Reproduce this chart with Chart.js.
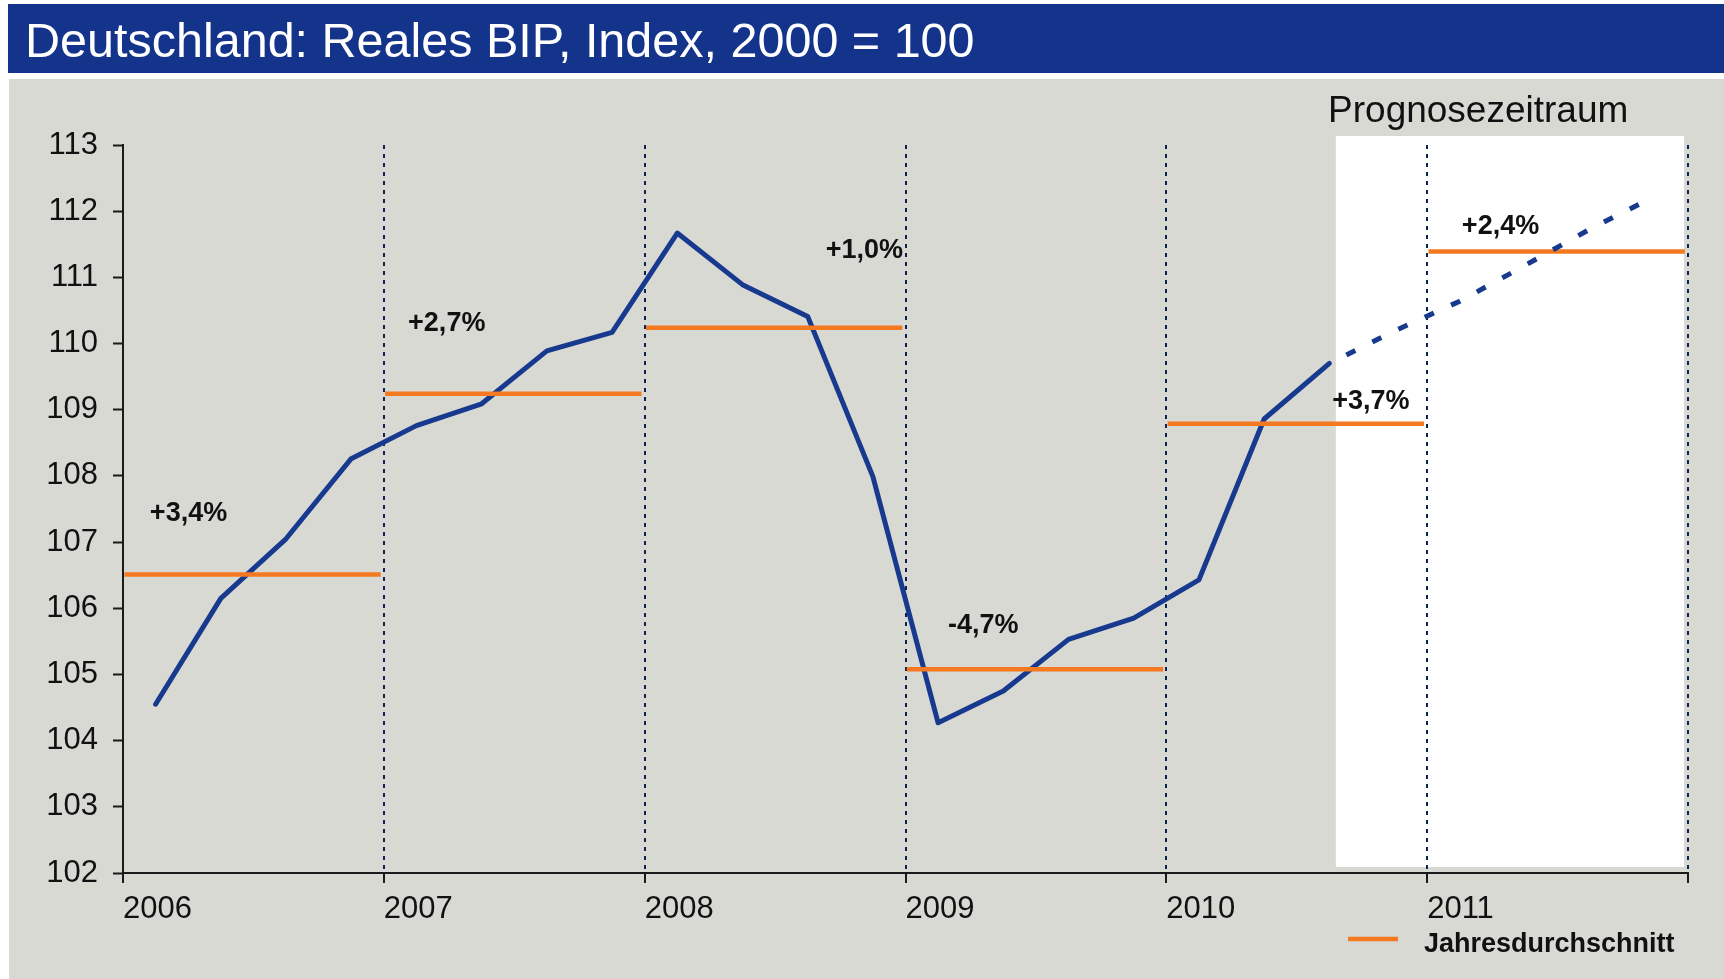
<!DOCTYPE html>
<html lang="de">
<head>
<meta charset="UTF-8">
<title>Deutschland: Reales BIP, Index, 2000 = 100</title>
<script src="https://cdn.jsdelivr.net/npm/chart.js"></script>
<style>
    body {
        margin: 0;
        width: 1724px;
        height: 979px;
        overflow: hidden;
        position: relative;
        background: #fff;
        font-family: "Liberation Sans", Arial, sans-serif;
    }
    .title-bar {
        position: absolute;
        left: 8px;
        top: 4px;
        width: 1716px;
        height: 69px;
        box-sizing: border-box;
        padding: 2px 0 0 17px;
        background: #13348a;
        color: #fff;
        font-size: 48.5px;
        line-height: 69px;
        white-space: nowrap;
    }
    .panel {
        position: absolute;
        left: 9px;
        top: 79px;
        width: 1715px;
        height: 900px;
        background: #d9d9d4;
    }
</style>
</head>
<body>
    <div class="title-bar">Deutschland: Reales BIP, Index, 2000 = 100</div>
    <div class="panel">
        <canvas id="bip-chart" width="1715" height="900"></canvas>
    </div>

    <script>
        // quarterly values
        const actualQuarters = ['2006-Q1', '2006-Q2', '2006-Q3', '2006-Q4',
                                '2007-Q1', '2007-Q2', '2007-Q3', '2007-Q4',
                                '2008-Q1', '2008-Q2', '2008-Q3', '2008-Q4',
                                '2009-Q1', '2009-Q2', '2009-Q3', '2009-Q4',
                                '2010-Q1', '2010-Q2', '2010-Q3'];
        const actualValues = [104.55, 106.15, 107.05, 108.26,
                              108.76, 109.09, 109.89, 110.17,
                              111.67, 110.89, 110.41, 107.99,
                              104.27, 104.75, 105.53, 105.85,
                              106.43, 108.86, 109.70];

        const forecastQuarters = ['2010-Q3', '2010-Q4', '2011-Q1', '2011-Q2', '2011-Q3', '2011-Q4'];
        const forecastValues = [109.70, 110.19, 110.64, 111.18, 111.73, 112.23];

        // annual averages and growth rates
        const years = [2006, 2007, 2008, 2009, 2010, 2011];
        const annualAverages = [106.51, 109.24, 110.24, 105.08, 108.79, 111.39];
        const growthLabels = ['+3,4%', '+2,7%', '+1,0%', '-4,7%', '+3,7%', '+2,4%'];

        // axes
        const xTickValues = [2006, 2007, 2008, 2009, 2010, 2011, 2012];
        const xTickLabels = ['2006', '2007', '2008', '2009', '2010', '2011', ''];
        const yTickValues = [102, 103, 104, 105, 106, 107, 108, 109, 110, 111, 112, 113];

        const FONT = '"Liberation Sans", Arial, sans-serif';
        const BLUE = '#173a8e';
        const ORANGE = '#f47920';
        const NAVY = '#0c2250';
        const AXIS = '#1a1a1a';

        // quarter -> middle of the quarter on a year axis
        function quarterPos(q) {
            const parts = q.split('-Q');
            return Number(parts[0]) + (Number(parts[1]) - 0.5) / 4;
        }

        const actualData = actualQuarters.map((q, i) => ({ x: quarterPos(q), y: actualValues[i] }));
        const forecastData = forecastQuarters.map((q, i) => ({ x: quarterPos(q), y: forecastValues[i] }));

        const averageData = [];
        years.forEach((yr, i) => {
            averageData.push({ x: yr + 0.005, y: annualAverages[i] });
            averageData.push({ x: yr + 0.988, y: annualAverages[i] });
            averageData.push({ x: yr + 0.99, y: null });
        });

        // white box behind the forecast period
        const forecastShade = {
            id: 'forecastShade',
            beforeDraw(chart, args, opts) {
                const { ctx, chartArea, scales } = chart;
                const left = scales.x.getPixelForValue(opts.from);
                const right = scales.x.getPixelForValue(opts.to);
                const top = chartArea.top - 9;
                const bottom = chartArea.bottom - 6;
                ctx.save();
                ctx.fillStyle = '#ffffff';
                ctx.fillRect(left, top, right - left, bottom - top);
                ctx.restore();
            }
        };

        // growth labels, forecast caption and the legend
        const chartTexts = {
            id: 'chartTexts',
            afterDatasetsDraw(chart, args, opts) {
                const { ctx, chartArea, scales } = chart;
                ctx.save();
                ctx.textAlign = 'left';
                ctx.textBaseline = 'alphabetic';

                ctx.fillStyle = '#111';
                ctx.font = 'bold 27px ' + FONT;
                growthLabels.forEach((txt, i) => {
                    const a = opts.anchors[i];
                    ctx.fillText(txt, scales.x.getPixelForValue(a[0]), scales.y.getPixelForValue(a[1]));
                });

                ctx.font = '37px ' + FONT;
                ctx.fillText('Prognosezeitraum',
                    scales.x.getPixelForValue(opts.caption[0]),
                    scales.y.getPixelForValue(opts.caption[1]));

                // legend
                const lx = chartArea.right - 340;
                const ly = chartArea.bottom + 66;
                ctx.strokeStyle = ORANGE;
                ctx.lineWidth = 4.5;
                ctx.beginPath();
                ctx.moveTo(lx, ly);
                ctx.lineTo(lx + 50, ly);
                ctx.stroke();
                ctx.font = 'bold 27px ' + FONT;
                ctx.fillText('Jahresdurchschnitt', lx + 76, ly + 13);
                ctx.restore();
            }
        };

        const ctx = document.getElementById('bip-chart').getContext('2d');
        new Chart(ctx, {
            type: 'line',
            data: {
                datasets: [
                    {
                        label: 'Jahresdurchschnitt',
                        data: averageData,
                        borderColor: ORANGE,
                        borderWidth: 4.5,
                        borderCapStyle: 'butt',
                        pointRadius: 0,
                        spanGaps: false,
                        order: 1
                    },
                    {
                        label: 'Reales BIP',
                        data: actualData,
                        borderColor: BLUE,
                        borderWidth: 5,
                        borderCapStyle: 'round',
                        borderJoinStyle: 'round',
                        pointRadius: 0,
                        tension: 0,
                        order: 2
                    },
                    {
                        label: 'Prognose',
                        data: forecastData,
                        borderColor: BLUE,
                        borderWidth: 5,
                        borderDash: [10, 19],
                        borderDashOffset: 10,
                        borderCapStyle: 'butt',
                        pointRadius: 0,
                        tension: 0,
                        order: 0
                    }
                ]
            },
            options: {
                responsive: false,
                animation: false,
                events: [],
                layout: { padding: { left: 0, right: 36, top: 66, bottom: 56 } },
                plugins: {
                    legend: { display: false },
                    tooltip: { enabled: false },
                    forecastShade: { from: 2010.65, to: 2011.985 },
                    chartTexts: {
                        anchors: [
                            [2006.103, 107.32],
                            [2007.093, 110.19],
                            [2008.694, 111.29],
                            [2009.163, 105.62],
                            [2010.636, 109.01],
                            [2011.133, 111.65]
                        ],
                        caption: [2010.62, 113.35]
                    }
                },
                scales: {
                    x: {
                        type: 'linear',
                        min: 2006,
                        max: 2012,
                        afterBuildTicks: s => { s.ticks = xTickValues.map(v => ({ value: v })); },
                        afterFit: s => { s.height = 50; },
                        border: { color: AXIS, width: 2, dash: [4, 5] },
                        grid: {
                            color: NAVY,
                            lineWidth: 2,
                            tickLength: 10,
                            tickColor: AXIS,
                            tickWidth: 2,
                            tickBorderDash: []
                        },
                        ticks: {
                            align: 'start',
                            padding: 8,
                            autoSkip: false,
                            maxRotation: 0,
                            color: '#111',
                            font: { family: FONT, size: 31 },
                            callback: (v, i) => xTickLabels[i]
                        }
                    },
                    y: {
                        min: 102,
                        max: 113,
                        afterBuildTicks: s => { s.ticks = yTickValues.map(v => ({ value: v })); },
                        afterFit: s => { s.width = 114; },
                        border: { color: AXIS, width: 2 },
                        grid: {
                            drawOnChartArea: false,
                            tickLength: 10,
                            tickColor: AXIS,
                            tickWidth: 2
                        },
                        ticks: {
                            padding: 15,
                            color: '#111',
                            font: { family: FONT, size: 31 },
                            callback: v => String(v)
                        }
                    }
                }
            },
            plugins: [forecastShade, chartTexts]
        });
    </script>
</body>
</html>
